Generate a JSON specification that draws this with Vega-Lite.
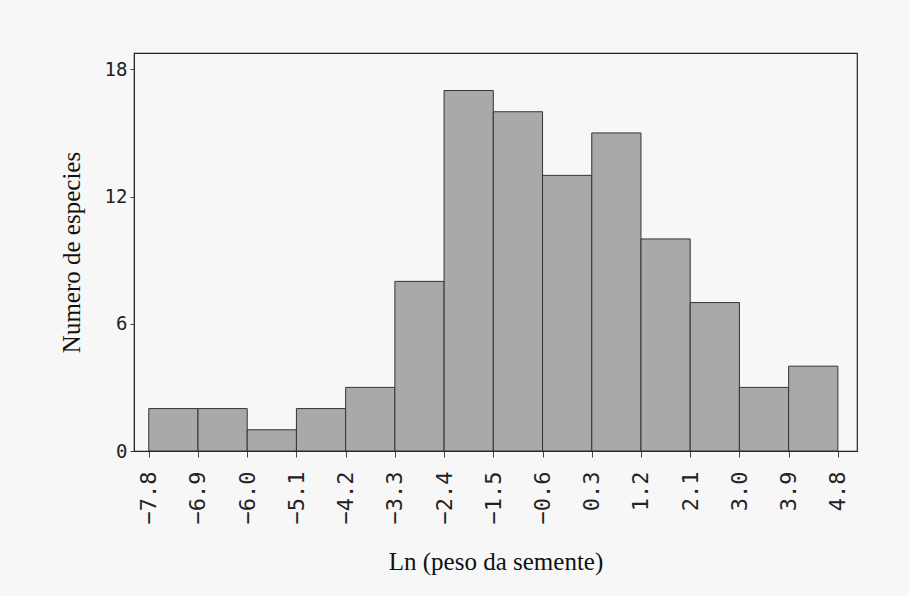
{
  "$schema": "https://vega.github.io/schema/vega-lite/v6.json",
  "width": 723,
  "height": 398,
  "autosize": {"type": "none"},
  "padding": {"left": 134, "top": 53, "right": 52, "bottom": 145},
  "background": "#f7f7f7",
  "config": {
    "view": {"stroke": "#222222", "strokeWidth": 1.2},
    "axis": {"grid": false, "domainColor": "#222222", "tickColor": "#444444", "labelColor": "#222222", "titleColor": "#111111"}
  },
  "data": {
    "values": [
      {"bin_start": -7.8, "bin_end": -6.9, "count": 2},
      {"bin_start": -6.9, "bin_end": -6.0, "count": 2},
      {"bin_start": -6.0, "bin_end": -5.1, "count": 1},
      {"bin_start": -5.1, "bin_end": -4.2, "count": 2},
      {"bin_start": -4.2, "bin_end": -3.3, "count": 3},
      {"bin_start": -3.3, "bin_end": -2.4, "count": 8},
      {"bin_start": -2.4, "bin_end": -1.5, "count": 17},
      {"bin_start": -1.5, "bin_end": -0.6, "count": 16},
      {"bin_start": -0.6, "bin_end": 0.3, "count": 13},
      {"bin_start": 0.3, "bin_end": 1.2, "count": 15},
      {"bin_start": 1.2, "bin_end": 2.1, "count": 10},
      {"bin_start": 2.1, "bin_end": 3.0, "count": 7},
      {"bin_start": 3.0, "bin_end": 3.9, "count": 3},
      {"bin_start": 3.9, "bin_end": 4.8, "count": 4}
    ]
  },
  "mark": {"type": "rect", "fill": "#a9a9a9", "stroke": "#333333", "strokeWidth": 1},
  "encoding": {
    "x": {
      "field": "bin_start",
      "type": "quantitative",
      "scale": {"domain": [-8.07, 5.15], "nice": false, "zero": false},
      "axis": {
        "values": [-7.8, -6.9, -6.0, -5.1, -4.2, -3.3, -2.4, -1.5, -0.6, 0.3, 1.2, 2.1, 3.0, 3.9, 4.8],
        "format": ".1f",
        "labelAngle": 270,
        "labelAlign": "right",
        "labelBaseline": "middle",
        "labelFont": "DejaVu Sans Mono",
        "labelFontSize": 22,
        "labelPadding": 14,
        "tickSize": 6,
        "labelOverlap": false,
        "title": "Ln (peso da semente)",
        "titleFont": "Liberation Serif",
        "titleFontSize": 25,
        "titleFontWeight": "normal",
        "titlePadding": 26
      }
    },
    "x2": {"field": "bin_end"},
    "y": {
      "field": "count",
      "type": "quantitative",
      "scale": {"domain": [0, 18.77], "nice": false},
      "axis": {
        "values": [0, 6, 12, 18],
        "labelFont": "DejaVu Sans Mono",
        "labelFontSize": 19,
        "labelPadding": 3,
        "tickSize": 4,
        "title": "Numero de especies",
        "titleFont": "Liberation Serif",
        "titleFontSize": 25,
        "titleFontWeight": "normal",
        "titlePadding": 20
      }
    },
    "y2": {"datum": 0}
  }
}
